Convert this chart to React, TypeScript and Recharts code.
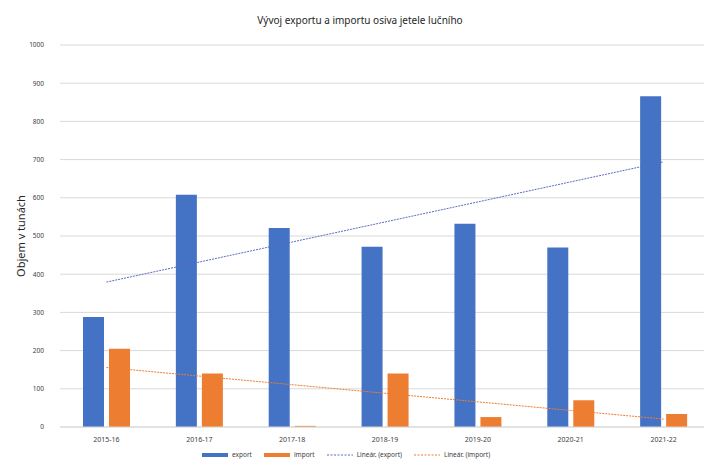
import { Bar, CartesianGrid, ComposedChart, Line, XAxis, YAxis } from "recharts";

const seasons = ["2015-16", "2016-17", "2017-18", "2018-19", "2019-20", "2020-21", "2021-22"];
const exportTons = [288, 608, 521, 472, 532, 470, 866];
const importTons = [205, 140, 3, 140, 26, 70, 34];
const yTicks = [0, 100, 200, 300, 400, 500, 600, 700, 800, 900, 1000];

const BLUE = "#4472C4";
const ORANGE = "#ED7D31";
const TREND_BLUE = "#5B6BC4";
const FONT = "'Noto Sans', 'Liberation Sans', sans-serif";

// least-squares trend, like Excel's "Lineární" trendline
function trend(values: number[]) {
  const n = values.length;
  const mx = (n - 1) / 2;
  const my = values.reduce((a, b) => a + b, 0) / n;
  let num = 0;
  let den = 0;
  values.forEach((v, i) => {
    num += (i - mx) * (v - my);
    den += (i - mx) * (i - mx);
  });
  const k = num / den;
  return values.map((_, i) => my + k * (i - mx));
}

const exportTrend = trend(exportTons);
const importTrend = trend(importTons);

const data = seasons.map((s, i) => ({
  season: s,
  export: exportTons[i],
  import: importTons[i],
  exportTrend: exportTrend[i],
  importTrend: importTrend[i],
}));

function LegendItem({ color, dashed, label }: { color: string; dashed?: boolean; label: string }) {
  return (
    <span style={{ display: "inline-flex", alignItems: "center", marginRight: 12 }}>
      <svg width={26} height={6} style={{ marginRight: 4 }}>
        <line
          x1={0}
          y1={3}
          x2={26}
          y2={3}
          stroke={color}
          strokeWidth={dashed ? 1 : 4}
          strokeDasharray={dashed ? "2 1.5" : undefined}
        />
      </svg>
      {label}
    </span>
  );
}

export default function App() {
  return (
    <div
      style={{
        position: "absolute",
        left: 0,
        top: 0,
        width: 704,
        height: 467,
        overflow: "hidden",
        background: "#fff",
        fontFamily: FONT,
      }}
    >
      <div style={{ position: "absolute", top: 13, left: 0, width: 720, textAlign: "center", fontSize: 10, color: "#262626" }}>
        Vývoj exportu a importu osiva jetele lučního
      </div>
      <div
        style={{
          position: "absolute",
          left: 20,
          top: 236,
          transform: "translate(-50%, -50%) rotate(-90deg)",
          fontSize: 11,
          color: "#262626",
          whiteSpace: "nowrap",
        }}
      >
        Objem v tunách
      </div>
      <ComposedChart
        width={720}
        height={467}
        data={data}
        margin={{ top: 45, right: 10, left: 0, bottom: 0 }}
        barSize={21}
        barGap={5}
      >
        <CartesianGrid vertical={false} stroke="#d9d9d9" />
        <XAxis
          dataKey="season"
          height={40}
          stroke="#d9d9d9"
          tickLine={false}
          tick={{ fontSize: 7, fill: "#404040", fontFamily: FONT }}
          tickMargin={4}
        />
        <YAxis
          width={60}
          domain={[0, 1000]}
          ticks={yTicks}
          axisLine={false}
          tickLine={false}
          tick={{ fontSize: 6.5, fill: "#404040", fontFamily: FONT }}
          tickMargin={10}
        />
        <Line
          type="linear"
          dataKey="exportTrend"
          stroke={TREND_BLUE}
          strokeWidth={1}
          strokeDasharray="2 1"
          dot={false}
          activeDot={false}
          isAnimationActive={false}
        />
        <Bar dataKey="export" fill={BLUE} isAnimationActive={false} />
        <Bar dataKey="import" fill={ORANGE} isAnimationActive={false} />
        <Line
          type="linear"
          dataKey="importTrend"
          stroke={ORANGE}
          strokeWidth={1}
          strokeDasharray="2 1"
          dot={false}
          activeDot={false}
          isAnimationActive={false}
        />
      </ComposedChart>
      <div
        style={{
          position: "absolute",
          top: 450,
          left: 202,
          fontSize: 6.5,
          color: "#404040",
          display: "flex",
          alignItems: "center",
          whiteSpace: "nowrap",
        }}
      >
        <LegendItem color={BLUE} label="export" />
        <LegendItem color={ORANGE} label="import" />
        <LegendItem color={TREND_BLUE} dashed label="Lineár. (export)" />
        <LegendItem color={ORANGE} dashed label="Lineár. (import)" />
      </div>
    </div>
  );
}
